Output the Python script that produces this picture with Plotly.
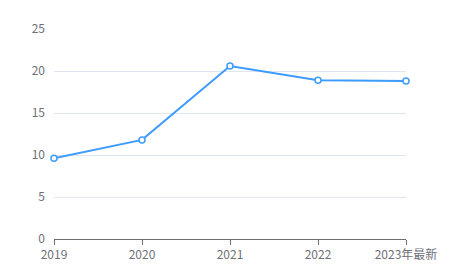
import plotly.graph_objects as go

categories = ["2019", "2020", "2021", "2022", "2023年最新"]
values = [9.6, 11.8, 20.6, 18.9, 18.8]
y_ticks = [0, 5, 10, 15, 20, 25]

x_idx = list(range(len(categories)))

fig = go.Figure()
fig.add_trace(go.Scatter(
    x=x_idx, y=values, mode="lines+markers",
    line=dict(color="#3e9bff", width=2),
    marker=dict(symbol="circle", size=6, color="white", line=dict(width=1.5, color="#3e9bff")),
    cliponaxis=False,
))

fig.update_layout(
    width=459, height=265,
    margin=dict(l=54, r=53, t=29, b=26),
    paper_bgcolor="white", plot_bgcolor="white",
    showlegend=False,
    font=dict(family="Noto Sans CJK SC, Noto Sans, sans-serif", size=12, color="#6e7079"),
    xaxis=dict(
        range=[0, len(categories) - 1],
        tickvals=x_idx, ticktext=categories,
        showgrid=False, zeroline=False,
        showline=True, linecolor="#6e7079", linewidth=1,
        ticks="outside", ticklen=5, tickcolor="#6e7079",
        tickfont=dict(size=12, color="#6e7079"),
        automargin=False,
    ),
    yaxis=dict(
        range=[0, 25], tickvals=y_ticks,
        showgrid=True, gridcolor="#e0e6f1", gridwidth=1,
        zeroline=False, showline=False,
        ticks="", ticklabelstandoff=8,
        tickfont=dict(size=12, color="#6e7079"),
        automargin=False,
    ),
)

fig.write_html("out.html")
